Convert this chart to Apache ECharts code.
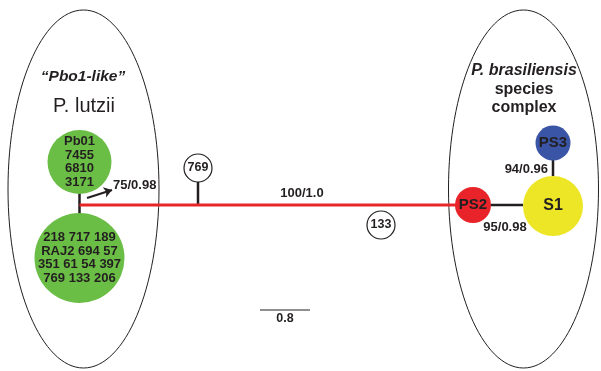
<!DOCTYPE html>
<html>
<head>
<meta charset="utf-8">
<script src="https://cdn.jsdelivr.net/npm/echarts@6/dist/echarts.min.js"></script>
<style>html,body{margin:0;padding:0;background:#fff;}#c{width:601px;height:371px;}</style>
</head>
<body>
<div id="c"></div>
<script>
// ---- data (diagram layout units) ----
const nodeNames = ['Pb01\n7455\n6810\n3171', '218 717 189\nRAJ2 694 57\n351 61 54 397\n769 133 206', 'PS2', 'S1', 'PS3'];
const nodeX = [79.5, 79.5, 473, 553, 553];
const nodeY = [162, 258, 205, 206, 143];
const nodeDiameter = [64, 90, 36, 60, 35];
const markerNames = ['769', '133'];
const markerX = [198, 381];
const markerY = [168, 225];
const supportLabels = ['75/0.98', '100/1.0', '94/0.96', '95/0.98'];
const supportX = [113, 302, 548, 505];
const supportY = [185, 193, 169, 227];
const groupLabels = ['\u201CPbo1-like\u201D', 'P. lutzii', 'P. brasiliensis', 'species', 'complex'];
const groupX = [83, 84, 524, 524, 524];
const groupY = [77, 106, 71, 90, 108];
const ellipses = [[83.5, 189, 75.5, 179], [523.5, 189, 75, 179]];
const redBranch = [[79.5, 205], [473, 205]];
const blackBranches = [[79.5, 193, 79.5, 214], [198, 182, 198, 205], [490, 205, 523, 205], [553, 160, 553, 176]];
const arrow = [[87, 198], [112, 190]];
const scaleBar = [[260, 310], [310, 310]];
const scaleLabel = '0.8';

// ---- styles ----
const ink = '#231f20';
const font = '"Liberation Sans", Arial, Helvetica, sans-serif';
const nodeColors = ['#6abd45', '#6abd45', '#e8232a', '#ede626', '#3a55a5'];
const nodeFont = [13, 13, 15, 16, 15];

const chart = echarts.init(document.getElementById('c'), null, {renderer: 'canvas'});

const option = {
  animation: false,
  backgroundColor: '#fff',
  grid: {left: 0, right: 0, top: 0, bottom: 0},
  xAxis: {type: 'value', min: 0, max: 601, show: false},
  yAxis: {type: 'value', min: 0, max: 371, inverse: true, show: false},
  series: [
    {
      type: 'custom', z: 1, silent: true,
      data: ellipses,
      renderItem: function (params, api) {
        const c = api.coord([api.value(0), api.value(1)]);
        const s = api.size([api.value(2), api.value(3)]);
        return {type: 'ellipse', shape: {cx: c[0], cy: c[1], rx: s[0], ry: s[1]},
          style: {fill: 'none', stroke: ink, lineWidth: 1}};
      }
    },
    {
      type: 'line', z: 2, silent: true, symbol: 'none',
      data: redBranch,
      lineStyle: {color: '#e8262a', width: 3}
    },
    {
      type: 'custom', z: 2, silent: true,
      data: blackBranches,
      renderItem: function (params, api) {
        const a = api.coord([api.value(0), api.value(1)]);
        const b = api.coord([api.value(2), api.value(3)]);
        return {type: 'line', shape: {x1: a[0], y1: a[1], x2: b[0], y2: b[1]},
          style: {stroke: ink, lineWidth: 2.5}};
      }
    },
    {
      type: 'lines', coordinateSystem: 'cartesian2d', z: 3, silent: true,
      symbol: ['none', 'arrow'], symbolSize: 8,
      data: [{coords: arrow}],
      lineStyle: {color: ink, width: 2, opacity: 1}
    },
    {
      type: 'line', z: 2, silent: true, symbol: 'none',
      data: scaleBar,
      lineStyle: {color: ink, width: 1.2}
    },
    {
      type: 'scatter', z: 5, silent: true,
      data: nodeNames.map((n, i) => ({
        name: n, value: [nodeX[i], nodeY[i]], symbolSize: nodeDiameter[i],
        itemStyle: {color: nodeColors[i], opacity: 1},
        label: {fontSize: nodeFont[i]}
      })),
      symbol: 'circle',
      itemStyle: {opacity: 1},
      label: {show: true, position: 'inside', formatter: p => p.name, color: ink,
        fontWeight: 'bold', fontFamily: font, lineHeight: 13.5, align: 'center'}
    },
    {
      type: 'scatter', z: 5, silent: true,
      data: markerNames.map((n, i) => ({name: n, value: [markerX[i], markerY[i]]})),
      symbol: 'circle', symbolSize: 28,
      itemStyle: {color: '#fff', borderColor: ink, borderWidth: 1.2, opacity: 1},
      label: {show: true, position: 'inside', formatter: p => p.name, color: ink,
        fontWeight: 'bold', fontFamily: font, fontSize: 12.5}
    },
    {
      type: 'scatter', z: 6, silent: true, symbolSize: 0,
      itemStyle: {opacity: 1},
      data: supportLabels.map((n, i) => ({name: n, value: [supportX[i], supportY[i]],
        label: {align: i === 0 ? 'left' : (i === 2 ? 'right' : 'center')}})),
      label: {show: true, position: 'inside', formatter: p => p.name, color: ink,
        fontWeight: 'bold', fontFamily: font, fontSize: 13}
    },
    {
      type: 'scatter', z: 6, silent: true, symbolSize: 0,
      itemStyle: {opacity: 1},
      data: [{name: scaleLabel, value: [285, 319]}],
      label: {show: true, position: 'inside', formatter: p => p.name, color: ink,
        fontWeight: 'bold', fontFamily: font, fontSize: 12.5}
    },
    {
      type: 'scatter', z: 6, silent: true, symbolSize: 0,
      itemStyle: {opacity: 1},
      data: groupLabels.map((n, i) => ({name: n, value: [groupX[i], groupY[i]],
        label: i === 1 ? {fontWeight: 'normal', fontStyle: 'normal', fontSize: 20}
             : (i === 0 || i === 2 ? {fontStyle: 'italic', fontSize: i === 0 ? 15.5 : 16} : {})})),
      label: {show: true, position: 'inside', formatter: p => p.name, color: ink,
        fontWeight: 'bold', fontFamily: font, fontSize: 16}
    }
  ]
};
chart.setOption(option);
</script>
</body>
</html>
